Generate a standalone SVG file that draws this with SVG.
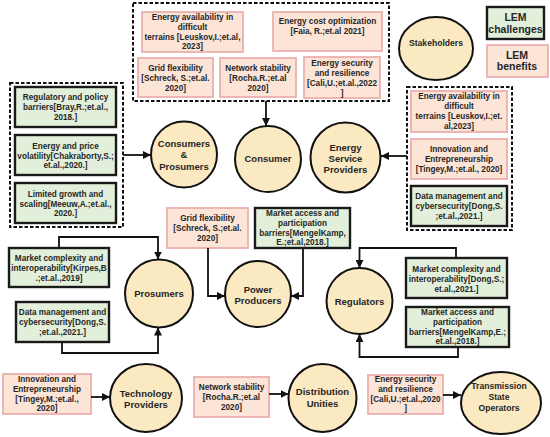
<svg xmlns="http://www.w3.org/2000/svg" width="550" height="437" viewBox="0 0 550 437">
<style>
.t{font-family:"Liberation Sans",Arial,sans-serif;font-weight:bold;font-size:8.2px;fill:#262626;text-anchor:middle}
.c{font-size:9.5px}
.s{font-size:8.6px}
.l{font-size:10.5px}
.pk{fill:#FCE4D6;stroke:#EBB0AE;stroke-width:1.8}
.gr{fill:#E2EFDA;stroke:#1a1a1a;stroke-width:2.4}
.nd{fill:#FBE9C1;stroke:#111;stroke-width:2}
.db{fill:none;stroke:#111;stroke-width:2;stroke-dasharray:3.5 2}
.cn{fill:none;stroke:#111;stroke-width:1.8;marker-end:url(#ah)}
</style>
<defs>
<marker id="ah" viewBox="0 0 10 10" refX="10" refY="5" markerWidth="8" markerHeight="8" markerUnits="userSpaceOnUse" orient="auto"><path d="M0,0 L10,5 L0,10 z" fill="#111"/></marker>
</defs>
<rect width="550" height="437" fill="#fff"/>

<g id="legend">
<rect class="gr" x="487" y="7" width="57" height="32"/>
<text class="t l" x="515.5" y="20.5">LEM</text>
<text class="t l" x="515.5" y="33">challenges</text>
<rect class="pk" x="487" y="45" width="61" height="32"/>
<text class="t l" x="517" y="58.5">LEM</text>
<text class="t l" x="517" y="70">benefits</text>
</g>

<g id="top-group">
<rect class="db" x="133" y="3" width="256" height="98"/>
<rect class="pk" x="142" y="12" width="101" height="40"/>
<text class="t" x="192.5" y="19.5">Energy availability in</text>
<text class="t" x="192.5" y="29.5">difficult</text>
<text class="t" x="192.5" y="39.5">terrains [Leuskov,I.;et.al,</text>
<text class="t" x="192.5" y="49">2023]</text>
<rect class="pk" x="273" y="12" width="109" height="39"/>
<text class="t" x="327.5" y="24">Energy cost optimization</text>
<text class="t" x="327.5" y="34">[Faia, R.;et.al 2021]</text>
<rect class="pk" x="138" y="58" width="75" height="39"/>
<text class="t" x="175.5" y="70.5">Grid flexibility</text>
<text class="t" x="175.5" y="81">[Schreck, S.;et.al.</text>
<text class="t" x="175.5" y="91">2020]</text>
<rect class="pk" x="220" y="58" width="76" height="39"/>
<text class="t" x="258" y="70.5">Network stability</text>
<text class="t" x="258" y="81">[Rocha.R.;et.al</text>
<text class="t" x="258" y="91">2020]</text>
<rect class="pk" x="304" y="57" width="76" height="41"/>
<text class="t" x="342" y="65.5">Energy security</text>
<text class="t" x="342" y="75.5">and resilience</text>
<text class="t" x="342" y="85.5">[Cali,U.;et.al.,2022</text>
<text class="t" x="342" y="95.5">]</text>
</g>

<g id="left-group">
<rect class="db" x="10" y="83" width="113" height="144"/>
<rect class="gr" x="15" y="87" width="101" height="40"/>
<text class="t" x="65.5" y="100.3">Regulatory and policy</text>
<text class="t" x="65.5" y="110">barriers[Bray,R.;et.al.,</text>
<text class="t" x="65.5" y="119.7">2018.]</text>
<rect class="gr" x="15" y="135" width="101" height="40"/>
<text class="t" x="65.5" y="148.7">Energy and price</text>
<text class="t" x="65.5" y="158.5">volatility[Chakraborty,S.;</text>
<text class="t" x="65.5" y="168">et.al.,2020.]</text>
<rect class="gr" x="15" y="183" width="101" height="40"/>
<text class="t" x="65.5" y="197">Limited growth and</text>
<text class="t" x="65.5" y="206.5">scaling[Meeuw,A.;et.al.,</text>
<text class="t" x="65.5" y="216">2020.]</text>
</g>

<g id="right-group">
<rect class="db" x="407" y="87" width="105" height="143"/>
<rect class="pk" x="411" y="91" width="96" height="41"/>
<text class="t" x="459" y="99">Energy availability in</text>
<text class="t" x="459" y="109">difficult</text>
<text class="t" x="459" y="119">terrains [Leuskov,I.;et.</text>
<text class="t" x="459" y="129">al,2023]</text>
<rect class="pk" x="411" y="139" width="96" height="40"/>
<text class="t" x="459" y="152.3">Innovation and</text>
<text class="t" x="459" y="162.3">Entrepreneurship</text>
<text class="t" x="459" y="172.3">[Tingey,M.;et.al., 2020]</text>
<rect class="gr" x="411" y="186" width="96" height="40"/>
<text class="t" x="459" y="199">Data management and</text>
<text class="t" x="459" y="209">cybersecurity[Dong,S.</text>
<text class="t" x="459" y="219">;et.al.,2021.]</text>
</g>

<g id="stakeholders">
<ellipse class="nd" cx="436" cy="48.5" rx="37" ry="31.5"/>
<text class="t s" x="436" y="46">Stakeholders</text>
</g>

<g id="consumers-prosumers">
<circle class="nd" cx="184" cy="154.5" r="33"/>
<text class="t c" x="184" y="146.5">Consumers</text>
<text class="t c" x="184" y="158">&amp;</text>
<text class="t c" x="184" y="169.5">Prosumers</text>
</g>
<g id="consumer">
<circle class="nd" cx="268" cy="159" r="33"/>
<text class="t c" x="268" y="162">Consumer</text>
</g>
<g id="energy-service-providers">
<circle class="nd" cx="345.5" cy="157.5" r="35"/>
<text class="t c" x="345.5" y="150.5">Energy</text>
<text class="t c" x="345.5" y="162">Service</text>
<text class="t c" x="345.5" y="173">Providers</text>
</g>

<g id="grid-flexibility">
<rect class="pk" x="167" y="208" width="81" height="40"/>
<text class="t" x="207.5" y="220.7">Grid flexibility</text>
<text class="t" x="207.5" y="230.5">[Schreck, S.;et.al.</text>
<text class="t" x="207.5" y="240.5">2020]</text>
</g>
<g id="market-access-1">
<rect class="gr" x="255" y="208" width="95" height="40"/>
<text class="t" x="302.5" y="215.7">Market access and</text>
<text class="t" x="302.5" y="225.7">participation</text>
<text class="t" x="302.5" y="235.7">barriers[MengelKamp,</text>
<text class="t" x="302.5" y="245.3">E.;et.al,2018.]</text>
</g>
<g id="power-producers">
<circle class="nd" cx="258" cy="294" r="33"/>
<text class="t c" x="258" y="292.5">Power</text>
<text class="t c" x="258" y="303.5">Producers</text>
</g>

<g id="market-complexity-1">
<rect class="gr" x="9" y="248" width="100" height="39"/>
<text class="t" x="59" y="260.7">Market complexity and</text>
<text class="t" x="59" y="271">interoperability[Kirpes,B</text>
<text class="t" x="59" y="280.5">.;et.al.,2019]</text>
</g>
<g id="data-management-1">
<rect class="gr" x="16" y="302" width="93" height="40"/>
<text class="t" x="62.5" y="314.7">Data management and</text>
<text class="t" x="62.5" y="324.7">cybersecurity[Dong,S.</text>
<text class="t" x="62.5" y="334.7">;et.al.,2021.]</text>
</g>
<g id="prosumers">
<circle class="nd" cx="159" cy="293.5" r="34"/>
<text class="t c" x="159" y="296.5">Prosumers</text>
</g>

<g id="market-complexity-2">
<rect class="gr" x="406" y="258" width="101" height="40"/>
<text class="t" x="456.5" y="272">Market complexity and</text>
<text class="t" x="456.5" y="282">interoperability[Dong,S.;</text>
<text class="t" x="456.5" y="291.5">et.al.,2021.]</text>
</g>
<g id="market-access-2">
<rect class="gr" x="406" y="307" width="103" height="40"/>
<text class="t" x="457.5" y="314.7">Market access and</text>
<text class="t" x="457.5" y="324.7">participation</text>
<text class="t" x="457.5" y="334.7">barriers[MengelKamp,E.;</text>
<text class="t" x="457.5" y="344">et.al.,2018.]</text>
</g>
<g id="regulators">
<circle class="nd" cx="359.5" cy="301" r="33"/>
<text class="t c" x="359.5" y="304.5">Regulators</text>
</g>

<g id="innovation-bottom">
<rect class="pk" x="3" y="374" width="88" height="40"/>
<text class="t" x="47" y="382">Innovation and</text>
<text class="t" x="47" y="392.3">Entrepreneurship</text>
<text class="t" x="47" y="402">[Tingey,M.;et.al.,</text>
<text class="t" x="47" y="411.3">2020]</text>
</g>
<g id="technology-providers">
<ellipse class="nd" cx="146" cy="398" rx="36" ry="34"/>
<text class="t c" x="146" y="396.5">Technology</text>
<text class="t c" x="146" y="407.5">Providers</text>
</g>
<g id="network-stability-bottom">
<rect class="pk" x="194" y="377" width="75" height="40"/>
<text class="t" x="231.5" y="389.7">Network stability</text>
<text class="t" x="231.5" y="399.7">[Rocha.R.;et.al</text>
<text class="t" x="231.5" y="409.7">2020]</text>
</g>
<g id="distribution-unities">
<circle class="nd" cx="322.5" cy="398" r="34"/>
<text class="t c" x="322.5" y="395">Distribution</text>
<text class="t c" x="322.5" y="406.5">Unities</text>
</g>
<g id="energy-security-bottom">
<rect class="pk" x="368" y="375" width="75" height="39"/>
<text class="t" x="405.5" y="382.3">Energy security</text>
<text class="t" x="405.5" y="392.3">and resilience</text>
<text class="t" x="405.5" y="402">[Cali,U.;et.al.,2020</text>
<text class="t" x="405.5" y="411.3">]</text>
</g>
<g id="transmission-state-operators">
<ellipse class="nd" cx="501" cy="403" rx="40" ry="31"/>
<text class="t s" x="499" y="389">Transmission</text>
<text class="t s" x="499" y="400">State</text>
<text class="t s" x="499" y="411">Operators</text>
</g>

<g id="connectors">
<path class="cn" d="M266,101 V126"/>
<path class="cn" d="M123,155 H151"/>
<path class="cn" d="M407,156 H381"/>
<path class="cn" d="M208,248 V296 H225"/>
<path class="cn" d="M303,248 V296 H291"/>
<path class="cn" d="M59,248 V237 H158 V259.5"/>
<path class="cn" d="M62,342 V353 H158 V327.5"/>
<path class="cn" d="M456,258 V248 H359.5 V268"/>
<path class="cn" d="M458,347 V357 H359.5 V334"/>
<path class="cn" d="M91,397 H110"/>
<path class="cn" d="M269,394 H288.5"/>
<path class="cn" d="M443,395 H461"/>
</g>
</svg>
